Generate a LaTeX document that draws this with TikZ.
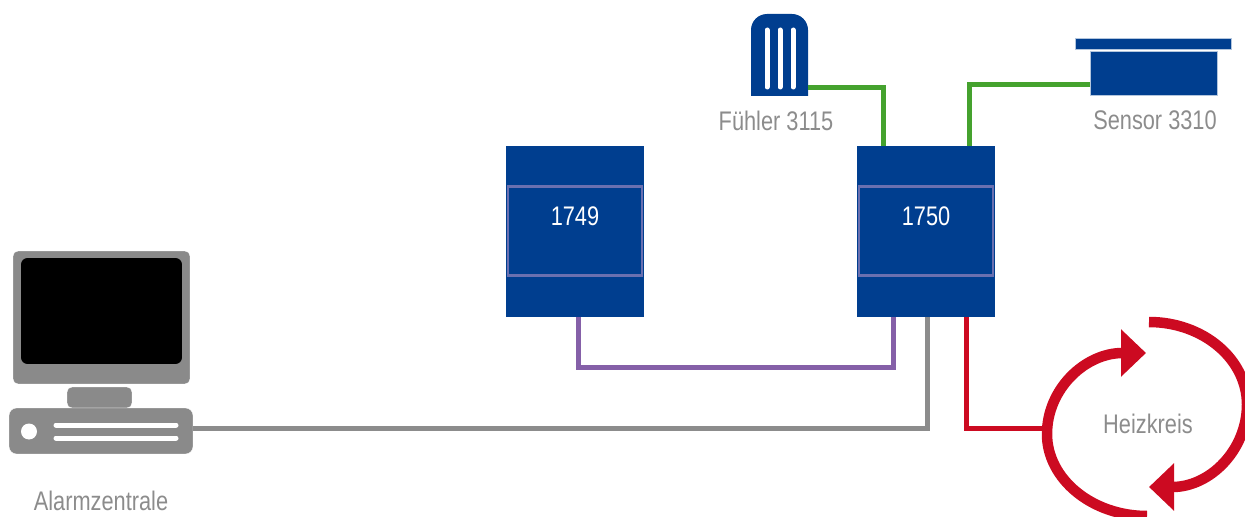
\documentclass[tikz,border=0pt]{standalone}
\usepackage{fontspec}
\setmainfont[FakeStretch=0.81]{Liberation Sans}
\usetikzlibrary{arrows.meta}

\definecolor{devblue}{HTML}{003E8F}
\definecolor{frameblue}{HTML}{6A70B0}
\definecolor{wiregreen}{HTML}{45A22E}
\definecolor{wirepurple}{HTML}{8560A8}
\definecolor{wiregrey}{HTML}{8C8C8C}
\definecolor{loopred}{HTML}{CC0A21}
\definecolor{pcgrey}{HTML}{8A8A8A}

\tikzset{
  wire/.style={line width=0.1cm, line join=miter},
  device/.style={fill=devblue, inner sep=0pt, minimum width=2.76cm, minimum height=3.42cm},
  devframe/.style={draw=frameblue, line width=0.05cm, inner sep=0pt, minimum width=2.69cm, minimum height=1.79cm},
  devtext/.style={text=white, inner sep=0pt, font=\fontsize{15.3}{18}\selectfont},
  caption/.style={text=wiregrey, inner sep=0pt, font=\fontsize{15.3}{18}\selectfont},
  pcpart/.style={fill=pcgrey, draw=white, line width=0.2pt, inner sep=0pt},
  slot/.style={draw=white, line width=0.1cm, line cap=round},
  looparc/.style={draw=loopred, line width=0.21cm},
  sensorpart/.style={fill=devblue, draw=white!70!devblue, line width=0.3pt, inner sep=0pt},
}

\begin{document}
\begin{tikzpicture}[x=0.02cm, y=-0.02cm]
\useasboundingbox (0,0) rectangle (1245,517);

% Devices
\node[device] (dev1749) at (575,231.5) {};
\node[device] (dev1750) at (926,231.5) {};
\node[devframe] (frame1749) at (575,231) {};
\node[devframe] (frame1750) at (926,231) {};
\node[devtext] (text1749) at (575,216) {1749};
\node[devtext] (text1750) at (926,216) {1750};

% Fuehler
\fill[devblue] (751,96) -- (751,30) arc[start angle=180, end angle=270, radius=16]
  -- (792,14) arc[start angle=270, end angle=360, radius=16] -- (808,96) -- cycle;
\foreach \xs in {767,780,793}
  \draw[slot] (\xs,30) -- (\xs,87);
\node[caption] (fuehlertext) at (776,120.5) {Fühler 3115};

% Sensor
\node[sensorpart, minimum width=3.12cm, minimum height=0.22cm] (sensorbar) at (1153,43.5) {};
\node[sensorpart, minimum width=2.54cm, minimum height=0.88cm] (sensor) at (1153.5,73) {};
\node[caption] (sensortext) at (1155,120.5) {Sensor 3310};

% Computer
\node[pcpart, rounded corners=0.1cm, minimum width=3.54cm, minimum height=2.66cm] (monitor) at (101.5,317.5) {};
\node[fill=black, inner sep=0pt, rounded corners=0.13cm, minimum width=3.22cm, minimum height=2.12cm] (screen) at (101.5,311) {};
\node[pcpart, rounded corners=0.1cm, minimum width=1.3cm, minimum height=0.42cm] (neck) at (99.5,397.5) {};
\node[pcpart, rounded corners=0.15cm, minimum width=3.68cm, minimum height=0.92cm] (pcbase) at (101,431) {};
\fill[white] (29,431.5) circle[radius=8];
\draw[slot] (56,425) -- (176,425);
\draw[slot] (56,438) -- (176,438);
\node[caption] (alarmtext) at (101,500.5) {Alarmzentrale};

% Ports
\coordinate (fuehlerout) at (808,87.5);
\coordinate (sensorout) at (1090,84.5);
\coordinate (pcout) at (193,428.5);
\coordinate (loopin) at (1047,428.5);

% Wires
\draw[wire, wiregreen] (fuehlerout) -| ([xshift=-0.85cm]dev1750.north);
\draw[wire, wiregreen] (sensorout) -| ([xshift=0.87cm]dev1750.north);
\draw[wire, wirepurple] ([xshift=0.06cm]dev1749.south) |- ([yshift=-1.01cm, xshift=-0.66cm]dev1750.south) -- ([xshift=-0.66cm]dev1750.south);
\draw[wire, wiregrey] (pcout) -| ([xshift=0.02cm]dev1750.south);
\draw[wire, loopred] ([xshift=0.81cm]dev1750.south) |- (loopin);

% Heating loop
\node[caption] (loopname) at (1148,423.5) {Heizkreis};
\draw[looparc, -{Triangle[length=0.5cm, width=0.92cm]}]
  (1147,516) .. controls (1092,516) and (1047,479) .. (1047,434)
  .. controls (1047,389) and (1085,353) .. (1146,353);
\draw[looparc, -{Triangle[length=0.5cm, width=0.92cm]}]
  (1149,322) .. controls (1203,322) and (1247,359) .. (1247,404.5)
  .. controls (1247,450) and (1210,487) .. (1149,487);

\end{tikzpicture}
\end{document}
